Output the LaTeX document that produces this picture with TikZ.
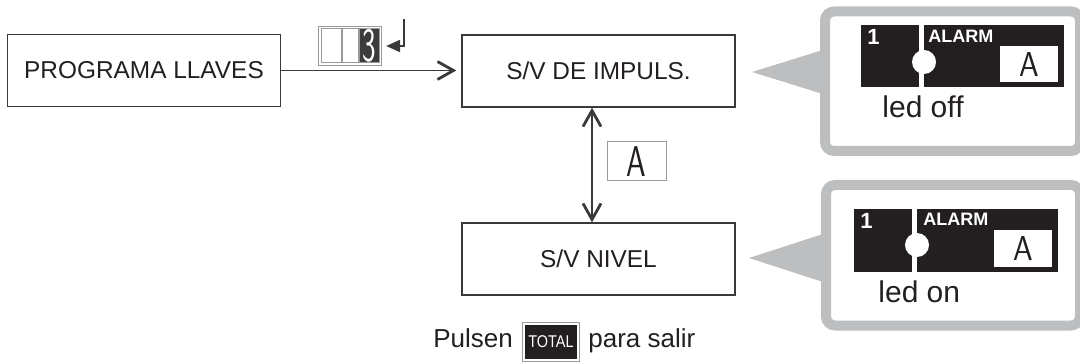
\documentclass[tikz,border=0pt]{standalone}
\usepackage{fontspec}
\setmainfont{Liberation Sans}
\usepackage{tikz}
\usetikzlibrary{
  arrows.meta,
  positioning,
  fit
}
\definecolor{inkblack}{HTML}{231F20}
\definecolor{linegray}{HTML}{3A3A3A}
\definecolor{keygray}{HTML}{9A9A9A}
\definecolor{keydark}{HTML}{3C3C3C}
\definecolor{calloutgray}{HTML}{BCBEC0}

\begin{document}
\begin{tikzpicture}[
  x=0.5pt, y=-0.5pt,
  % Node styles
  component/.style={
    rectangle,
    draw=linegray,
    line width=0.7pt,
    minimum width=136.5pt,
    minimum height=36pt,
    inner sep=0pt,
    font=\fontsize{12.2}{14}\selectfont,
    text=inkblack,
  },
  keycap/.style={
    rectangle,
    draw=keygray,
    line width=0.5pt,
    minimum width=29.5pt,
    minimum height=19.5pt,
    inner sep=0pt,
    font=\sffamily\fontsize{21.5}{22}\selectfont,
    text=inkblack,
  },
  digitcell/.style={
    rectangle,
    draw=keygray,
    line width=0.5pt,
    minimum height=17pt,
    inner sep=0pt,
    font=\sffamily\fontsize{24}{25}\selectfont,
  },
  frame/.style={
    rectangle,
    draw=keygray,
    line width=0.6pt,
    inner sep=1pt,
  },
  panel/.style={
    rectangle,
    fill=inkblack,
    inner sep=0pt,
  },
  paneltext/.style={
    anchor=north west,
    inner sep=0pt,
    text=white,
    font=\bfseries\fontsize{9}{10}\selectfont,
  },
  alarmkey/.style={
    rectangle,
    fill=white,
    minimum width=29pt,
    minimum height=18pt,
    inner sep=0pt,
    font=\sffamily\fontsize{17.3}{18}\selectfont,
    text=inkblack,
  },
  ledtext/.style={
    anchor=base west,
    inner sep=0pt,
    font=\fontsize{15}{17}\selectfont,
    text=inkblack,
  },
  hint/.style={
    anchor=base west,
    inner sep=0pt,
    font=\fontsize{13}{15}\selectfont,
    text=inkblack,
  },
  totalkey/.style={
    rectangle,
    fill=inkblack,
    minimum width=26pt,
    minimum height=17pt,
    inner sep=0pt,
    text=white,
    font=\fontsize{8.5}{9}\selectfont,
  },
  callout/.style={
    draw=calloutgray,
    line width=5pt,
    rounded corners=4.5pt,
  },
  arrow/.style={
    -{Straight Barb[length=8pt,width=9pt,line width=1.4pt]},
    line width=0.7pt,
    linegray,
  },
  darrow/.style={
    {Straight Barb[length=8pt,width=9pt,line width=1.4pt]}-{Straight Barb[length=8pt,width=9pt,line width=1.4pt]},
    line width=0.7pt,
    linegray,
  },
  retarrow/.style={
    -{Triangle[length=7pt,width=6pt]},
    line width=1pt,
    linegray,
  },
]
\useasboundingbox (0,0) rectangle (1080,363);

% ── Callout frames (cut at the right edge) ──
\begin{scope}
  \clip (0,0) rectangle (1080,363);
  \draw[callout] (825,11.5) rectangle (1080,151);
  \fill[calloutgray] (752,72) -- (826,49) -- (826,95) -- cycle;
  \draw[callout] (826,185) rectangle (1080,325.5);
  \fill[calloutgray] (749,258) -- (826,233) -- (826,283) -- cycle;
\end{scope}

% ── Main boxes ──
\node[component] (prog) at (144,70.5) {PROGRAMA LLAVES};
\node[component] (impuls) at (598.5,71) {S/V DE IMPULS.};
\node[component] (nivel) at (598.5,259) {S/V NIVEL};

% ── Key A between the boxes ──
\node[keycap] (keya) at (636.5,161.5) {\scalebox{0.73}[1]{A}};

% ── Digit display with return key ──
\node[digitcell, minimum width=10pt] (cellone) at (331,46) {};
\node[digitcell, minimum width=8pt, right=0pt of cellone] (celltwo) {};
\node[digitcell, minimum width=10pt, fill=keydark, text=white,
  right=0pt of celltwo] (cellthree) {\scalebox{0.6}[1]{3}};
\node[frame, fit=(cellone)(celltwo)(cellthree)] (display) {};
\coordinate (retstart) at (404,19);

% ── Arrows ──
\draw[arrow, shorten >=2.5pt] (prog.east) -- (prog.east -| impuls.west);
\draw[darrow] ([xshift=-3.25pt]impuls.south) -- ([xshift=-3.25pt]nivel.north);
\draw[retarrow, shorten >=2pt] (retstart) |- (display.east);

% ── Panel: led off ──
\node[panel, minimum width=101.5pt, minimum height=31pt] (paneloff) at (962.5,56) {};
\draw[white, line width=2.5pt] (921,25) -- (921,87);
\fill[white] (924,62) circle (6pt);
\node[paneltext, font=\bfseries\fontsize{11}{12}\selectfont] (oneoff) at (867,29) {1};
\node[paneltext] (alarmoff) at (928,30) {ALARM};
\node[alarmkey] (keyoff) at (1029,64) {\scalebox{0.91}[1]{A}};
\node[ledtext] (ledoff) at (882,118) {led off};

% ── Panel: led on ──
\node[panel, minimum width=102pt, minimum height=31.5pt] (panelon) at (956,240.5) {};
\draw[white, line width=2.5pt] (914,209) -- (914,272);
\fill[white] (917,245) circle (6pt);
\node[paneltext, font=\bfseries\fontsize{11}{12}\selectfont] (oneon) at (860,213) {1};
\node[paneltext] (alarmon) at (923,213) {ALARM};
\node[alarmkey, minimum height=18.5pt] (keyon) at (1023,248.5) {\scalebox{0.91}[1]{A}};
\node[ledtext] (ledon) at (878,302) {led on};

% ── Exit hint ──
\node[hint] (pulsen) at (433,347) {Pulsen};
\node[totalkey] (total) at (551,342) {\scalebox{0.85}[1]{TOTAL}};
\node[frame, fit=(total)] (totalframe) {};
\node[hint] (salir) at (588,347) {para salir};

\end{tikzpicture}
\end{document}
